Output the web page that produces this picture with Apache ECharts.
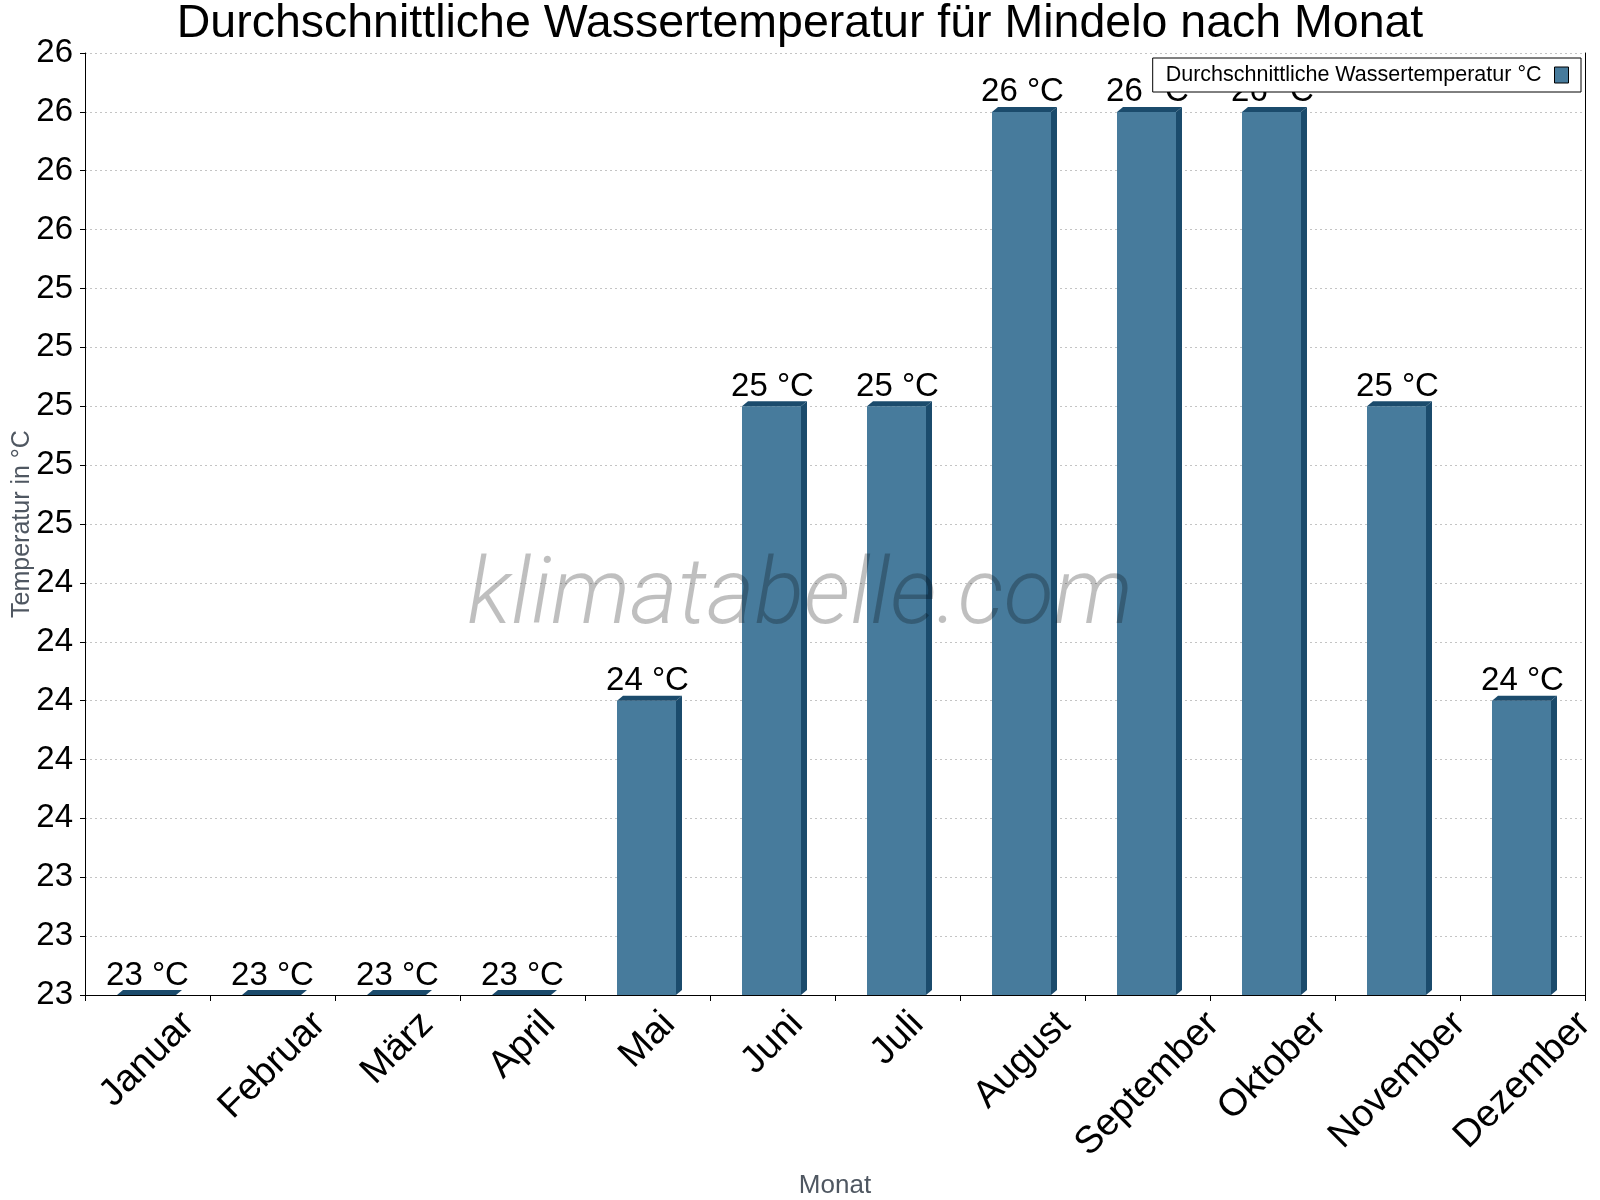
<!DOCTYPE html>
<html>
<head>
<meta charset="utf-8">
<script src="https://cdn.jsdelivr.net/npm/echarts@6/dist/echarts.min.js"></script>
<style>
html,body{margin:0;padding:0;background:#fff;}
#chart{width:1600px;height:1200px;}
</style>
</head>
<body>
<div id="chart"></div>
<script>
const months = ['Januar','Februar','März','April','Mai','Juni','Juli','August','September','Oktober','November','Dezember'];
const waterTemp = [23, 23, 23, 23, 24, 25, 25, 26, 26, 26, 25, 24];
const seriesName = 'Durchschnittliche Wassertemperatur °C';
const titleText = 'Durchschnittliche Wassertemperatur für Mindelo nach Monat';
const yMin = 23, yMax = 26.2, yStep = 0.2;

const FONT = '"Liberation Sans", Arial, sans-serif';
const FRONT = '#477b9c';
const DARK = '#1b4b6c';
const XLAB_SIZE = 38;

const measureCtx = document.createElement('canvas').getContext('2d');
measureCtx.font = XLAB_SIZE + 'px ' + FONT;

const chart = echarts.init(document.getElementById('chart'));

function renderBar(params, api) {
  const i = api.value(0), v = api.value(1);
  const top = api.coord([i, v]);
  const base = api.coord([i, yMin]);
  const bw = api.size([1, 0])[0] * 0.472;
  const x0 = top[0] - bw / 2 - 1, x1 = x0 + bw;
  const yt = top[1], yb = base[1];
  const dx = 6, dy = 5;
  return {
    type: 'group',
    children: [
      {type: 'rect', shape: {x: x0, y: yt, width: bw, height: yb - yt}, style: {fill: FRONT}},
      {type: 'polygon', shape: {points: [[x1, yt], [x1 + dx, yt - dy], [x1 + dx, yb - dy], [x1, yb]]}, style: {fill: DARK}},
      {type: 'polygon', shape: {points: [[x0, yt], [x0 + dx, yt - dy], [x1 + dx, yt - dy], [x1, yt]]}, style: {fill: DARK}},
      {type: 'text', x: top[0], y: yt - dy + 2, style: {text: Math.round(v) + ' °C', align: 'center', verticalAlign: 'bottom', font: '33px ' + FONT, fill: '#000'}}
    ]
  };
}

function renderXLabel(params, api) {
  const i = api.value(0);
  const p = api.coord([i, yMin]);
  const label = months[i];
  const L = measureCtx.measureText(label).width;
  const H = XLAB_SIZE;
  const c = Math.SQRT1_2;
  const cy = p[1] + 10 + c * (L / 2 + H / 2);
  return {
    type: 'text', x: p[0], y: cy, rotation: Math.PI / 4,
    style: {text: label, align: 'center', verticalAlign: 'middle', font: XLAB_SIZE + 'px ' + FONT, fill: '#000'}
  };
}

const option = {
  animation: false,
  backgroundColor: '#fff',
  textStyle: {fontFamily: FONT},
  title: {
    text: titleText, left: 'center', top: -4,
    textStyle: {fontSize: 46.5, fontWeight: 'normal', color: '#000', fontFamily: FONT}
  },
  legend: {
    data: [seriesName], right: 19, top: 58, align: 'right',
    backgroundColor: '#fff', borderColor: '#000', borderWidth: 1, borderRadius: 0,
    padding: [6, 12, 6, 13], itemWidth: 14, itemHeight: 16, icon: 'rect',
    itemStyle: {color: FRONT, borderColor: '#000', borderWidth: 1},
    textStyle: {fontSize: 21.5, color: '#000', fontFamily: FONT, padding: [0, 8, 0, 0]}
  },
  grid: {left: 85, right: 15, top: 53, bottom: 205, containLabel: false, outerBoundsMode: 'none'},
  xAxis: {
    type: 'category', data: months, boundaryGap: true,
    axisLine: {lineStyle: {color: '#000', width: 1}},
    axisTick: {show: true, length: 6, lineStyle: {color: '#000'}},
    axisLabel: {show: false},
    splitLine: {show: false},
    name: 'Monat', nameLocation: 'middle', nameGap: 178, nameMoveOverlap: false,
    nameTextStyle: {fontSize: 26, color: '#4f5761', fontFamily: FONT}
  },
  yAxis: [{
    type: 'value', min: yMin, max: yMax, interval: yStep,
    axisLine: {show: true, lineStyle: {color: '#000', width: 1}},
    axisTick: {show: true, length: 5, lineStyle: {color: '#000'}},
    axisLabel: {fontSize: 33, color: '#000', margin: 12, formatter: v => String(Math.round(v))},
    splitLine: {show: true, lineStyle: {color: '#c4c4c4', width: 1, type: [2, 3]}},
    name: 'Temperatur in °C', nameLocation: 'middle', nameGap: 50, nameMoveOverlap: false,
    nameTextStyle: {fontSize: 25, color: '#4f5761', fontFamily: FONT}
  }, {
    type: 'value', position: 'right', min: yMin, max: yMax, interval: yStep,
    axisLine: {show: true, lineStyle: {color: '#000', width: 1}},
    axisTick: {show: false}, axisLabel: {show: false}, splitLine: {show: false}
  }],
  graphic: [{
    type: 'text', left: 'center', top: 554, z: 100,
    style: {text: 'klimatabelle.com', font: 'italic 300 92px Roboto, "Open Sans", sans-serif', fill: 'rgba(0,0,0,0.25)'}
  }],
  series: [{
    name: seriesName, type: 'custom', coordinateSystem: 'cartesian2d',
    itemStyle: {color: FRONT}, clip: false,
    renderItem: renderBar,
    data: waterTemp.map((v, i) => [i, v])
  }, {
    name: 'xlabels', type: 'custom', coordinateSystem: 'cartesian2d', clip: false,
    silent: true, renderItem: renderXLabel,
    data: months.map((m, i) => [i, yMin])
  }]
};
chart.setOption(option);
</script>
</body>
</html>
